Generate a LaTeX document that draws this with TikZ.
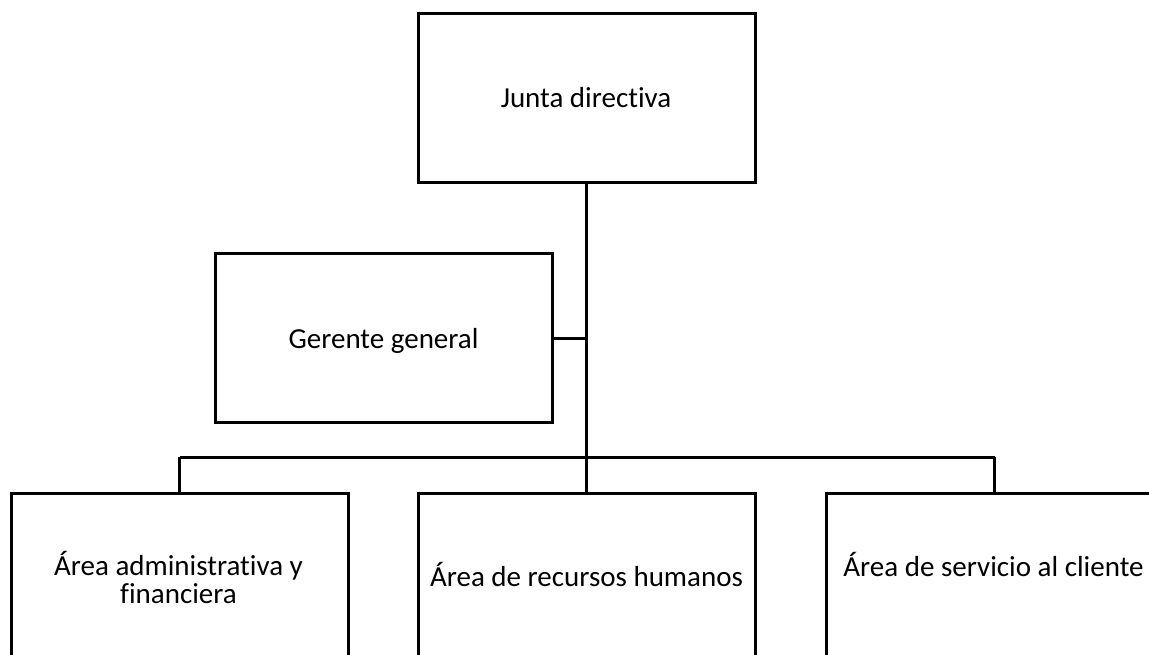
\documentclass[tikz,border=0pt]{standalone}
\usepackage{fontspec}
\setmainfont{Carlito}[Ligatures=NoCommon]
\begin{document}
\begin{tikzpicture}[x=1pt,y=-1pt,
  unitbox/.style={draw, line width=3pt, minimum width=337pt, minimum height=169pt,
                  inner sep=0pt, outer sep=0pt},
  lbl/.style={font=\fontsize{29}{28}\selectfont, align=center, inner sep=0pt, anchor=base},
  link/.style={line width=3pt}]
\useasboundingbox (0,0) rectangle (1149,655);
\clip (0,0) rectangle (1149,655);

% boxes of the chart
\node[unitbox] (jd) at (586.5,98.5) {};
\node[unitbox] (gg) at (383.5,338) {};
\node[unitbox] (af) at (179.5,577.5) {};
\node[unitbox] (rh) at (586.5,577.5) {};
\node[unitbox] (sc) at (994.5,577.5) {};

% labels
\node[lbl] (tjd) at (586,107.3) {Junta directiva};
\node[lbl] (tgg) at (383.5,348) {Gerente general};
\node[lbl] (taf) at (178.5,603) {Área administrativa y\\financiera};
\node[lbl] (trh) at (586.5,586) {Área de recursos humanos};
\node[lbl] (tsc) at (993.5,576.7) {Área de servicio al cliente};

% connectors
\coordinate (hub) at (jd.south |- 0,457);
\coordinate (ggj) at (jd.south |- gg.east);
\draw[link] (jd.south) -- (hub);
\draw[link] (gg.east) -- (ggj);
\draw[link] (af.north |- hub) -- (sc.north |- hub);
\draw[link] (af.north |- hub) -- (af.north);
\draw[link] (hub) -- (rh.north);
\draw[link] (sc.north |- hub) -- (sc.north);
\end{tikzpicture}
\end{document}
